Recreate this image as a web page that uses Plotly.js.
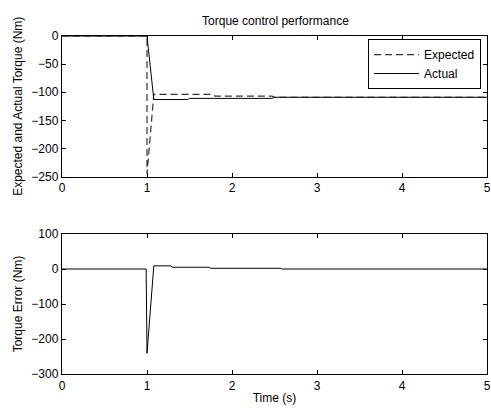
<!DOCTYPE html>
<html>
<head>
<meta charset="utf-8">
<script src="https://cdn.plot.ly/plotly-3.0.1.min.js"></script>
<style>html,body{margin:0;padding:0;background:#fff;}#chart{width:491px;height:408px;}</style>
</head>
<body>
<div id="chart"></div>
<script>
// Expected torque (Nm)
const expectedTime = [0, 1.0, 1.0, 1.08, 1.78, 1.80, 2.47, 2.50, 5.0];
const expectedTorque = [0, 0, -245, -104, -104, -107, -107, -109, -109];
// Actual torque (Nm)
const actualTime = [0, 1.0, 1.08, 1.48, 1.50, 2.47, 2.50, 5.0];
const actualTorque = [0, 0, -113, -113, -111, -111, -109, -109];
// Torque error (Nm)
const errorTime = [0, 0.99, 1.0, 1.08, 1.28, 1.30, 1.73, 1.75, 2.57, 2.59, 5.0];
const errorTorque = [0, 0, -241, 9, 9, 5, 5, 2, 2, 0, 0];

const xTicks = [0, 1, 2, 3, 4, 5];
const topYTicks = [0, -50, -100, -150, -200, -250];
const bottomYTicks = [100, 0, -100, -200, -300];

const font = {family: 'Liberation Sans, Arial, sans-serif', size: 12, color: '#000'};

const traces = [
  {x: expectedTime, y: expectedTorque, type: 'scatter', mode: 'lines', name: 'Expected',
   line: {color: '#333', width: 1.2, dash: '7px,4px'}, xaxis: 'x', yaxis: 'y'},
  {x: actualTime, y: actualTorque, type: 'scatter', mode: 'lines', name: 'Actual',
   line: {color: '#000', width: 1}, xaxis: 'x', yaxis: 'y'},
  {x: errorTime, y: errorTorque, type: 'scatter', mode: 'lines', name: 'Error', showlegend: false,
   line: {color: '#000', width: 1}, xaxis: 'x2', yaxis: 'y2'}
];

function axisCommon() {
  return {
    showline: true, linecolor: '#000', linewidth: 1.2, mirror: 'ticks',
    ticks: 'inside', ticklen: 4, tickcolor: '#000', tickwidth: 1,
    showgrid: false, zeroline: false, tickfont: font, fixedrange: true,
    ticklabelposition: 'outside', ticklabeloverflow: 'allow', automargin: false
  };
}

const layout = {
  width: 491, height: 408,
  margin: {l: 62, r: 4, t: 36, b: 34},
  paper_bgcolor: '#fff', plot_bgcolor: '#fff',
  font: font,
  showlegend: true,
  title: {text: 'Torque control performance', font: font, x: 0.561, xanchor: 'center', y: 0.95, yanchor: 'middle'},
  legend: {x: 0.986, xanchor: 'right', y: 0.991, yanchor: 'top', bgcolor: '#fff',
           bordercolor: '#000', borderwidth: 1, font: font, tracegroupgap: 0, itemwidth: 45},
  xaxis: Object.assign(axisCommon(), {domain: [0, 1], range: [0, 5], tickvals: xTicks, anchor: 'y'}),
  yaxis: Object.assign(axisCommon(), {domain: [0.5843, 1], range: [-250, 0], tickvals: topYTicks, anchor: 'x',
    title: {text: 'Expected and Actual Torque (Nm)', font: font, standoff: 6}}),
  xaxis2: Object.assign(axisCommon(), {domain: [0, 1], range: [0, 5], tickvals: xTicks, anchor: 'y2',
    title: {text: 'Time (s)', font: font, standoff: 2}}),
  yaxis2: Object.assign(axisCommon(), {domain: [0, 0.4142], range: [-300, 100], tickvals: bottomYTicks, anchor: 'x2',
    title: {text: 'Torque Error (Nm)', font: font, standoff: 6}})
};

Plotly.newPlot('chart', traces, layout, {displayModeBar: false, staticPlot: true});
</script>
</body>
</html>
